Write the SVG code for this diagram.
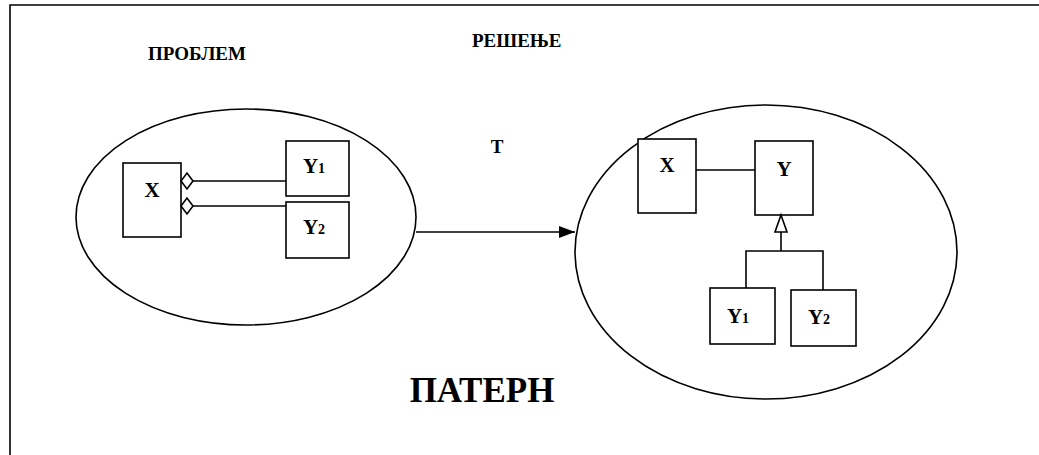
<svg xmlns="http://www.w3.org/2000/svg" width="1039" height="455" viewBox="0 0 1039 455">
<defs>
<style>
.ln{fill:none;stroke:#000;stroke-width:1.6}
.bx{fill:#fff;stroke:#000;stroke-width:1.6}
.t{font-family:"Liberation Serif","Times New Roman",serif;font-weight:bold;fill:#000}
.lbl{font-size:21px;text-anchor:middle}
.sub{font-size:14px}
.hd{font-size:19px}
</style>
<marker id="arr" viewBox="0 0 16 12" refX="16" refY="6" markerWidth="16" markerHeight="12" markerUnits="userSpaceOnUse" orient="auto">
<path d="M0,0 L16,6 L0,12 Z" fill="#000"/>
</marker>
</defs>
<rect width="1039" height="455" fill="#fff"/>
<path class="ln" d="M10,455 V5 H1039" stroke-width="2"/>
<text class="t hd" x="148" y="60">ПРОБЛЕМ</text>
<text class="t hd" x="472" y="47">РЕШЕЊЕ</text>
<text class="t hd" x="497" y="153" text-anchor="middle">Т</text>
<text class="t" x="482" y="402" font-size="35" text-anchor="middle">ПАТЕРН</text>
<g id="problem">
<ellipse class="ln" cx="246" cy="217" rx="170" ry="108"/>
</g>
<g id="solution">
<ellipse class="ln" cx="766" cy="252" rx="191" ry="147"/>
</g>
<g id="p-x"><rect class="bx" x="123" y="163" width="58" height="74"/><text class="t lbl" x="152" y="197">X</text></g>
<g id="p-y1"><rect class="bx" x="286" y="141" width="63" height="55"/><text class="t lbl" x="314" y="173">Y<tspan class="sub">1</tspan></text></g>
<g id="p-y2"><rect class="bx" x="286" y="202" width="63" height="56"/><text class="t lbl" x="314" y="234">Y<tspan class="sub">2</tspan></text></g>
<g id="s-x"><rect class="bx" x="638" y="139" width="58" height="74"/><text class="t lbl" x="667" y="172">X</text></g>
<g id="s-y"><rect class="bx" x="755" y="141" width="58" height="74"/><text class="t lbl" x="784" y="176">Y</text></g>
<g id="s-y1"><rect class="bx" x="710" y="288" width="65" height="56"/><text class="t lbl" x="738" y="323">Y<tspan class="sub">1</tspan></text></g>
<g id="s-y2"><rect class="bx" x="791" y="290" width="65" height="56"/><text class="t lbl" x="819" y="324">Y<tspan class="sub">2</tspan></text></g>
<g id="connectors">
<path class="ln" d="M193,181 H286"/>
<path class="ln" d="M193,206 H286"/>
<path class="bx" d="M181,181 L187,173 L193,181 L187,189 Z"/>
<path class="bx" d="M181,206 L187,198 L193,206 L187,214 Z"/>
<path class="ln" d="M416,232 H575" marker-end="url(#arr)"/>
<path class="ln" d="M696,170 H755"/>
<path class="ln" d="M746,288 V251 H823 V290 M781,251 V232"/>
<path class="bx" d="M781,215 L787,232 L775,232 Z"/>
</g>
</svg>
